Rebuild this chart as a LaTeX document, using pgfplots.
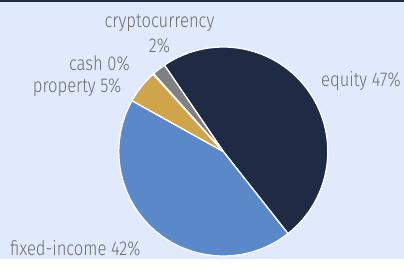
\documentclass[border=0pt]{standalone}
\usepackage{pgfplots}
\usepackage{pgfplotstable}
\pgfplotsset{compat=1.18}
\usepackage{fontspec}
\setmainfont{Fira Sans}[UprightFont=* Light, FakeStretch=0.83]
\definecolor{bgcol}{HTML}{E0EAFC}
\definecolor{topcol}{HTML}{1F2A44}
\definecolor{equity}{HTML}{1F2B45}
\definecolor{fixed}{HTML}{5A88C9}
\definecolor{property}{HTML}{D0A44A}
\definecolor{cash}{HTML}{8FB4E8}
\definecolor{crypto}{HTML}{808080}
\definecolor{labcol}{HTML}{6E6E6E}
\pgfplotstableread{
label value col
equity 47 equity
fixed-income 42 fixed
property 5 property
cash 0.1 cash
cryptocurrency 2 crypto
}\piedata
\begin{document}
\begin{tikzpicture}
\begin{axis}[
  width=404bp, height=259bp, scale only axis,
  xmin=0, xmax=404, ymin=0, ymax=259, y dir=reverse,
  hide axis, clip=false,
]
\fill[bgcol] (axis cs:0,0) rectangle (axis cs:404,259);
\fill[topcol] (axis cs:0,0) rectangle (axis cs:404,2);
\def\total{0}
\pgfplotsforeachungrouped \i in {0,...,4}{%
  \pgfplotstablegetelem{\i}{value}\of\piedata
  \pgfmathsetmacro\total{\total+\pgfplotsretval}%
}
\def\cum{0}
\pgfplotsforeachungrouped \i in {0,...,4}{%
  \pgfplotstablegetelem{\i}{value}\of\piedata \let\v\pgfplotsretval
  \pgfplotstablegetelem{\i}{col}\of\piedata \let\c\pgfplotsretval
  \pgfmathsetmacro\a{124.3-360*(\cum/\total)}%
  \pgfmathsetmacro\cum{\cum+\v}%
  \pgfmathsetmacro\b{124.3-360*(\cum/\total)}%
  \edef\temp{\noexpand\filldraw[fill=\c, draw=white, line width=1.3bp, line join=round] (axis cs:223.3,151.5) -- ++(\a:104.5bp) arc[start angle=\a, end angle=\b, radius=104.5bp] -- cycle;}%
  \temp
}
\begin{scope}[every node/.style={inner sep=0pt, text=labcol, font=\fontsize{20bp}{23bp}\selectfont}]
\node[anchor=base] at (axis cs:159.5,27) {cryptocurrency};
\node[anchor=base] at (axis cs:159.5,52) {2\%};
\node[anchor=base east] at (axis cs:130,70.5) {cash 0\%};
\node[anchor=base east] at (axis cs:121.5,92) {property 5\%};
\node[anchor=base west] at (axis cs:321,86.7) {equity 47\%};
\node[anchor=base west] at (axis cs:10,255) {fixed-income 42\%};
\end{scope}
\end{axis}
\end{tikzpicture}
\end{document}
